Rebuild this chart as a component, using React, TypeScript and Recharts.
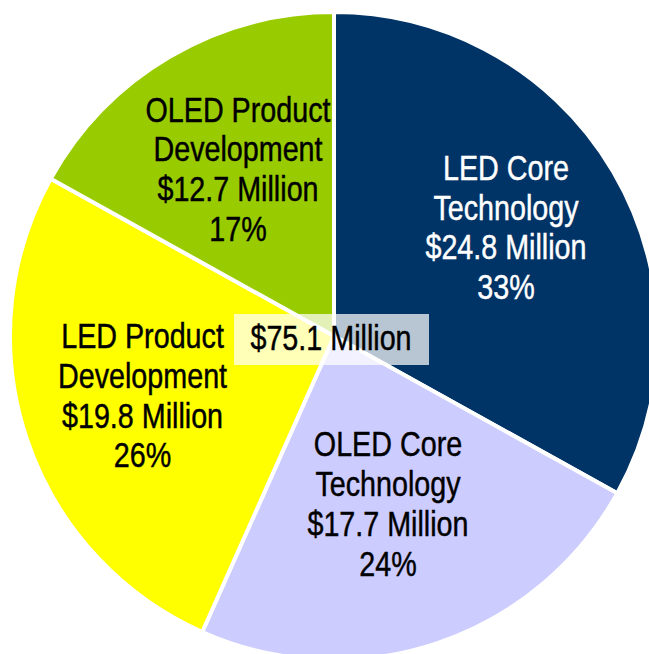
import React from "react";
import { PieChart, Pie, Cell } from "recharts";

const categories = ["LED Core Technology", "OLED Core Technology", "LED Product Development", "OLED Product Development"];
const labelLines = [
  ["LED Core", "Technology"],
  ["OLED Core", "Technology"],
  ["LED Product", "Development"],
  ["OLED Product", "Development"],
];
const values = [24.8, 17.7, 19.8, 12.7];
const percentLabels = ["33%", "24%", "26%", "17%"];
const totalLabel = "$75.1 Million";

const colors = ["#003366", "#CCCCFF", "#FFFF00", "#99CC00"];
const textColors = ["#FFFFFF", "#000000", "#000000", "#000000"];
const labelRadius = [0.6275, 0.5448, 0.6192, 0.5939];
const labelAngleShift = [1.75, -0.67, -1.12, -0.55];

const data = categories.map((name, i) => ({ name, value: values[i] }));

const FONT = "'Liberation Sans', Arial, sans-serif";
const FS = 35;
const LH = 39.7;
const NARROW = 0.82;

const CX = 334;
const CY = 336;
const R = 324;

const RAD = Math.PI / 180;

const renderLabel = (props: any) => {
  const { cx, cy, midAngle, outerRadius, index } = props;
  const a = (midAngle + labelAngleShift[index]) * RAD;
  const r = outerRadius * labelRadius[index];
  const x = cx + r * Math.cos(a);
  const yMid = cy - r * Math.sin(a);
  const lines = [...labelLines[index], `$${values[index].toFixed(1)} Million`, percentLabels[index]];
  const firstBaseline = yMid - (LH * (lines.length - 1)) / 2 + 12;
  return (
    <text
      key={`lbl-${index}`}
      x={0}
      y={firstBaseline}
      transform={`translate(${x} 0) scale(${NARROW} 1)`}
      textAnchor="middle"
      fill={textColors[index]}
      stroke={textColors[index]}
      strokeWidth={0.45}
      fontFamily={FONT}
      fontSize={FS}
    >
      {lines.map((l, j) => (
        <tspan key={j} x={0} y={firstBaseline + j * LH}>
          {l}
        </tspan>
      ))}
    </text>
  );
};

export default function App() {
  return (
    <div style={{ position: "absolute", left: 0, top: 0, width: 649, height: 654, background: "#FFFFFF" }}>
      <PieChart width={649} height={654} margin={{ top: 0, right: 0, bottom: 0, left: 0 }}>
        <Pie
          data={data}
          dataKey="value"
          nameKey="name"
          cx={CX}
          cy={CY}
          outerRadius={R}
          innerRadius={0}
          startAngle={90}
          endAngle={-270}
          stroke="#FFFFFF"
          strokeWidth={4}
          isAnimationActive={false}
          labelLine={false}
          label={renderLabel}
        >
          {data.map((d, i) => (
            <Cell key={d.name} fill={colors[i]} />
          ))}
        </Pie>
      </PieChart>
      <svg
        width={649}
        height={654}
        style={{ position: "absolute", left: 0, top: 0, pointerEvents: "none" }}
      >
        <rect x={234} y={314} width={195} height={51} fill="#FFFFFF" fillOpacity={0.72} />
        <text
          x={0}
          y={350.5}
          transform={`translate(331 0) scale(${NARROW} 1)`}
          textAnchor="middle"
          fill="#000000"
          stroke="#000000"
          strokeWidth={0.45}
          fontFamily={FONT}
          fontSize={FS}
        >
          {totalLabel}
        </text>
      </svg>
    </div>
  );
}
